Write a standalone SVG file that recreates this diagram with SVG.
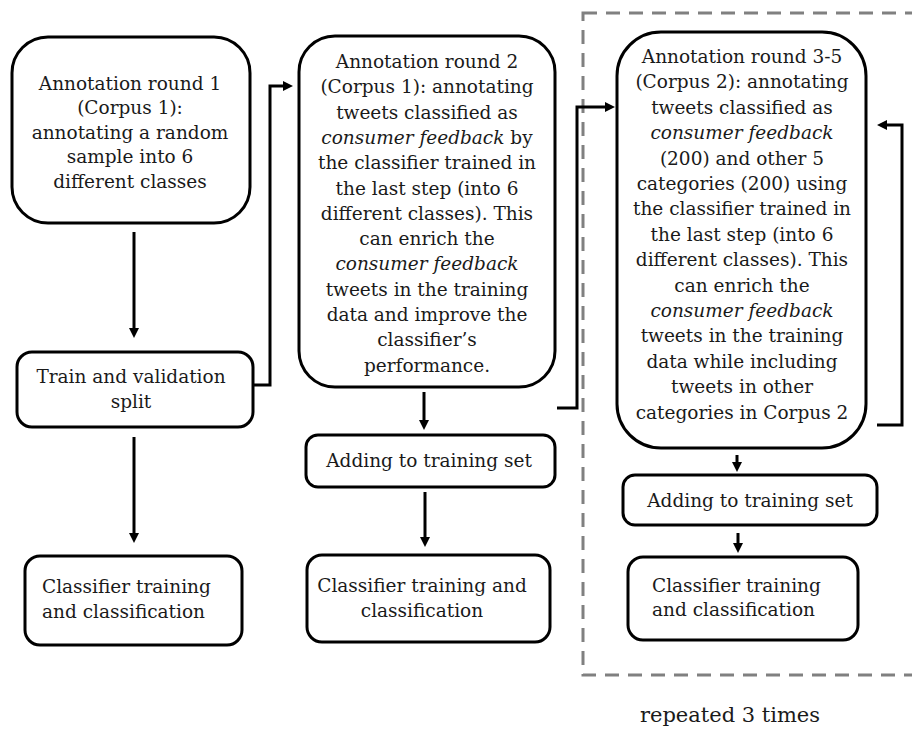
<svg xmlns="http://www.w3.org/2000/svg" width="912" height="729" viewBox="0 0 912 729">
<style>
.box{fill:#fff;stroke:#000;stroke-width:3}
.t{font-family:"DejaVu Serif","Liberation Serif",serif;font-size:18.5px;fill:#1a1a1a}
.c{text-anchor:middle}
.i{font-style:italic}
.conn path{fill:none;stroke:#000;stroke-width:3}
.dash{fill:none;stroke:#808080;stroke-width:3;stroke-dasharray:14 9}
</style>
<defs>
<marker id="ah" viewBox="0 0 10 10" refX="2" refY="5" markerWidth="10" markerHeight="11" markerUnits="userSpaceOnUse" orient="auto">
<path d="M0,0 L10,5 L0,10 z" fill="#000"/>
</marker>
</defs>
<rect class="dash" x="583" y="13" width="400" height="662"/>
<g id="n1">
<rect class="box" x="12" y="37" width="238" height="186" rx="36"/>
<text class="t c" x="130" y="90">Annotation round 1</text>
<text class="t c" x="130" y="114">(Corpus 1):</text>
<text class="t c" x="130" y="139">annotating a random</text>
<text class="t c" x="130" y="163">sample into 6</text>
<text class="t c" x="130" y="188">different classes</text>
</g>
<g id="n2">
<rect class="box" x="17" y="352" width="236" height="75" rx="15"/>
<text class="t c" x="131" y="383">Train and validation</text>
<text class="t c" x="131" y="408">split</text>
</g>
<g id="n3">
<rect class="box" x="25" y="556" width="217" height="89" rx="15"/>
<text class="t" x="42" y="593">Classifier training</text>
<text class="t" x="42" y="618">and classification</text>
</g>
<g id="n4">
<rect class="box" x="299" y="36" width="256" height="351" rx="36"/>
<text class="t c" x="427" y="68">Annotation round 2</text>
<text class="t c" x="427" y="93">(Corpus 1): annotating</text>
<text class="t c" x="427" y="119">tweets classified as</text>
<text class="t c" x="427" y="144"><tspan class="i">consumer feedback</tspan> by</text>
<text class="t c" x="427" y="169">the classifier trained in</text>
<text class="t c" x="427" y="195">the last step (into 6</text>
<text class="t c" x="427" y="220">different classes). This</text>
<text class="t c" x="427" y="245">can enrich the</text>
<text class="t c i" x="427" y="270">consumer feedback</text>
<text class="t c" x="427" y="296">tweets in the training</text>
<text class="t c" x="427" y="321">data and improve the</text>
<text class="t c" x="427" y="346">classifier’s</text>
<text class="t c" x="427" y="372">performance.</text>
</g>
<g id="n5">
<rect class="box" x="306" y="435" width="249" height="52" rx="12"/>
<text class="t c" x="429" y="467">Adding to training set</text>
</g>
<g id="n6">
<rect class="box" x="307" y="555" width="243" height="87" rx="15"/>
<text class="t c" x="422" y="592">Classifier training and</text>
<text class="t c" x="422" y="617">classification</text>
</g>
<g id="n7">
<rect class="box" x="617" y="32" width="249" height="416" rx="44"/>
<text class="t c" x="742" y="63">Annotation round 3-5</text>
<text class="t c" x="742" y="88">(Corpus 2): annotating</text>
<text class="t c" x="742" y="114">tweets classified as</text>
<text class="t c i" x="742" y="139">consumer feedback</text>
<text class="t c" x="742" y="165">(200) and other 5</text>
<text class="t c" x="742" y="190">categories (200) using</text>
<text class="t c" x="742" y="215">the classifier trained in</text>
<text class="t c" x="742" y="241">the last step (into 6</text>
<text class="t c" x="742" y="266">different classes). This</text>
<text class="t c" x="742" y="292">can enrich the</text>
<text class="t c i" x="742" y="317">consumer feedback</text>
<text class="t c" x="742" y="342">tweets in the training</text>
<text class="t c" x="742" y="368">data while including</text>
<text class="t c" x="742" y="393">tweets in other</text>
<text class="t c" x="742" y="419">categories in Corpus 2</text>
</g>
<g id="n8">
<rect class="box" x="623" y="475" width="254" height="50" rx="12"/>
<text class="t c" x="750" y="507">Adding to training set</text>
</g>
<g id="n9">
<rect class="box" x="628" y="557" width="230" height="83" rx="15"/>
<text class="t" x="652" y="592">Classifier training</text>
<text class="t" x="652" y="616">and classification</text>
</g>
<text id="label" x="730" y="722" style="font-family:'DejaVu Serif','Liberation Serif',serif;font-size:21px;fill:#1a1a1a;text-anchor:middle">repeated 3 times</text>
<g class="conn" id="connectors">
<path d="M134,232 V330" marker-end="url(#ah)"/>
<path d="M134,437 V535" marker-end="url(#ah)"/>
<path d="M253,385 H270 V86 H285" marker-end="url(#ah)"/>
<path d="M424,392 V422" marker-end="url(#ah)"/>
<path d="M425,492 V539" marker-end="url(#ah)"/>
<path d="M557,408 H577 V107 H607" marker-end="url(#ah)"/>
<path d="M737,455 V464" marker-end="url(#ah)"/>
<path d="M738,533 V545" marker-end="url(#ah)"/>
<path d="M877,425 H902 V125 H885" marker-end="url(#ah)"/>
</g>
</svg>
